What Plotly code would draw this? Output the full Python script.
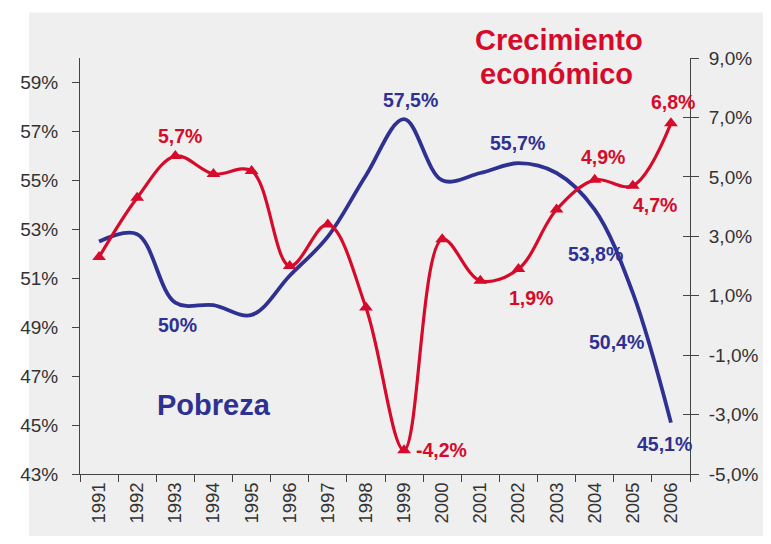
import plotly.graph_objects as go

years = [str(y) for y in range(1991, 2007)]
pobreza = [52.5, 52.8, 50.0, 49.9, 49.5, 51.1, 52.7, 55.2, 57.5, 55.0, 55.3, 55.7, 55.3, 53.8, 50.4, 45.1]
crecimiento = [2.3, 4.3, 5.7, 5.1, 5.2, 2.0, 3.4, 0.6, -4.2, 2.9, 1.5, 1.9, 3.9, 4.9, 4.7, 6.8]

left_ticks = [43, 45, 47, 49, 51, 53, 55, 57, 59]
left_text = [f"{v}%" for v in left_ticks]
right_ticks = [-5, -3, -1, 1, 3, 5, 7, 9]
right_text = [f"{v:.1f}%".replace(".", ",") for v in right_ticks]

BLUE = "#2e3192"
RED = "#d60a2a"
AXC = "#444444"
TXT = "#333333"
BG = "#efefef"
FONT = "Liberation Sans, Arial, sans-serif"

# figure size and measured figure->picture mapping
W, H = 763, 528
AX, BX = 0.967, 21.4
AY, BY = 0.983, 8.7

def fig_x(p):
    return (p - BX) / AX

def fig_y(p):
    return (p - BY) / AY

ml = fig_x(74)
pw = fig_x(692) - ml
mr = W - ml - pw
mt = fig_y(58)
ph = fig_y(472) - mt
mb = H - mt - ph

def paper_x_fig(f):
    return (f - ml) / pw

def paper_y_fig(f):
    return (H - mb - f) / ph

def paper_x(p):
    return paper_x_fig(fig_x(p))

def paper_y(p):
    return paper_y_fig(fig_y(p))

fig = go.Figure()
fig.add_trace(go.Scatter(x=years, y=pobreza, mode="lines", line=dict(color=BLUE, width=3.8, shape="spline"),
                         yaxis="y", showlegend=False))
fig.add_trace(go.Scatter(x=years, y=crecimiento, mode="lines+markers",
                         line=dict(color=RED, width=3.2, shape="spline"),
                         marker=dict(symbol="triangle-up", size=12, color=RED),
                         yaxis="y2", showlegend=False))
# carrier for the inner half of the right-axis ticks
fig.add_trace(go.Scatter(x=[years[0]], y=[None], yaxis="y3", showlegend=False, hoverinfo="skip"))

lab_font = dict(family=FONT, size=19.5, color=RED)
blab_font = dict(family=FONT, size=19.5, color=BLUE)

annotations = []
red_labels = [("1993", "5,7%", 5, 20), ("1999", "-4,2%", 36, 0), ("2002", "1,9%", 12, -29),
              ("2004", "4,9%", 8, 22), ("2005", "4,7%", 21, -19), ("2006", "6,8%", 2, 21)]
for yr, t, dx, dy in red_labels:
    i = years.index(yr)
    annotations.append(dict(x=i, y=crecimiento[i], xref="x", yref="y2", text=f"<b>{t}</b>", showarrow=False,
                            xanchor="center", yanchor="middle", xshift=dx / AX, yshift=dy / AY, font=lab_font))
blue_labels = [("1993", "50%", 2, -22), ("1999", "57,5%", 6, 19), ("2002", "55,7%", -1, 20),
               ("2004", "53,8%", 1, -44), ("2005", "50,4%", -16, -48), ("2006", "45,1%", -6, -21)]
for yr, t, dx, dy in blue_labels:
    i = years.index(yr)
    annotations.append(dict(x=i, y=pobreza[i], xref="x", yref="y", text=f"<b>{t}</b>", showarrow=False,
                            xanchor="center", yanchor="middle", xshift=dx / AX, yshift=dy / AY, font=blab_font))

big = 29
annotations.append(dict(x=paper_x(210), y=paper_y(403), xref="paper", yref="paper", text="<b>Pobreza</b>",
                        xanchor="center", yanchor="middle", showarrow=False,
                        font=dict(family=FONT, size=big, color=BLUE)))
annotations.append(dict(x=paper_x(559), y=paper_y(40), xref="paper", yref="paper", text="<b>Crecimiento</b>",
                        xanchor="center", yanchor="middle", showarrow=False,
                        font=dict(family=FONT, size=big, color=RED)))
annotations.append(dict(x=paper_x(557), y=paper_y(74), xref="paper", yref="paper", text="<b>económico</b>",
                        xanchor="center", yanchor="middle", showarrow=False,
                        font=dict(family=FONT, size=big, color=RED)))

tickfont = dict(family=FONT, size=19, color=TXT)
xtickfont = dict(family=FONT, size=18.5, color=TXT)

fig.update_layout(
    width=W, height=H,
    margin=dict(l=ml, r=mr, t=mt, b=mb, pad=0),
    paper_bgcolor="white",
    plot_bgcolor="rgba(0,0,0,0)",
    xaxis=dict(type="category", categoryorder="array", categoryarray=years, tickson="boundaries",
               ticks="outside", ticklen=7, tickcolor=AXC, showline=True, linecolor=AXC, linewidth=1,
               tickangle=-90, tickfont=xtickfont, showgrid=False, zeroline=False,
               range=[-0.5, 15.5]),
    yaxis=dict(range=[43, 60], tickvals=left_ticks, ticktext=left_text, ticks="outside", ticklen=7,
               tickcolor=AXC, showline=True, linecolor=AXC, linewidth=1, tickfont=tickfont,
               showgrid=False, zeroline=False, ticklabelstandoff=10),
    yaxis2=dict(range=[-5, 9], tickvals=right_ticks, ticktext=right_text, overlaying="y", side="right",
                ticks="outside", ticklen=8, tickcolor=AXC, showline=True, linecolor=AXC, linewidth=1,
                tickfont=tickfont, showgrid=False, zeroline=False, ticklabelstandoff=6, anchor="x"),
    yaxis3=dict(range=[-5, 9], tickvals=right_ticks, overlaying="y", side="right", ticks="inside",
                ticklen=7, tickcolor=AXC, showticklabels=False, showgrid=False, zeroline=False,
                showline=False, anchor="x"),
    annotations=annotations,
    shapes=[dict(type="rect", xref="paper", yref="paper", layer="below",
                 x0=paper_x_fig(1), x1=paper_x_fig(792), y0=paper_y_fig(572), y1=paper_y_fig(4),
                 fillcolor=BG, line=dict(width=0))],
)

fig.write_html("out.html")
